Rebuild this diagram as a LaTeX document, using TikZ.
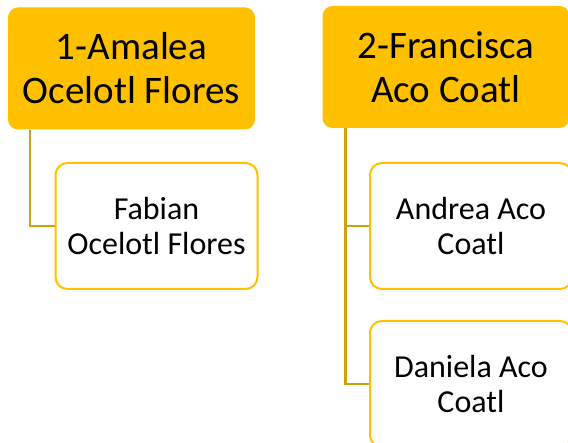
\documentclass[tikz,border=0pt]{standalone}
\usepackage{fontspec}
\setmainfont{Carlito}
\usetikzlibrary{calc}

\definecolor{gold}{HTML}{FFC000}
\definecolor{darkgold}{HTML}{CFA10C}

\tikzset{
	parent/.style = {fill = gold, rounded corners = 10pt, inner sep = 0pt,
		minimum width = 247pt, minimum height = 122pt, align = center,
		font = \fontsize{39}{44}\selectfont},
	child/.style = {draw = gold, line width = 2pt, fill = white, rounded corners = 12pt,
		inner sep = 0pt, minimum width = 202pt, minimum height = 126pt, align = center,
		font = \fontsize{32}{35}\selectfont},
	link/.style = {draw = darkgold, line width = 2.6pt}
}

\begin{document}
\begin{tikzpicture}[x = 1pt, y = -1pt]
		\def\drop{22};

		\useasboundingbox (0,0) rectangle (568,443);

		% first family
		\node [parent] (amalea) at (131.5,68.5) {1-Amalea\\Ocelotl Flores};
		\node [child] (fabian) at (156.5,226) {Fabian\\Ocelotl Flores};

		\draw [link] ($(amalea.south west)+(\drop,0)$) |- (fabian.west);

		% second family
		\node [parent] (francisca) at (446,67) {2-Francisca\\Aco Coatl};
		\node [child] (andrea) at (471,226) {Andrea Aco\\Coatl};
		\node [child] (daniela) at (471,384) {Daniela Aco\\Coatl};

		\draw [link] ($(francisca.south west)+(\drop+1,0)$) |- (andrea.west);
		\draw [link] ($(francisca.south west)+(\drop+1,0)$) |- (daniela.west);
	\end{tikzpicture}
\end{document}
